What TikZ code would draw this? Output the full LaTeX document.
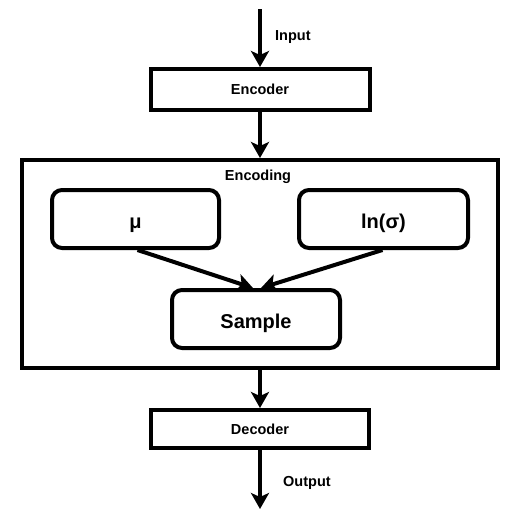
\documentclass[tikz,border=0pt]{standalone}
\usepackage{fontspec}
\setmainfont{Liberation Sans}
\usetikzlibrary{arrows.meta,calc}
\begin{document}
\begin{tikzpicture}[x=1pt,y=-1pt,
  box/.style={draw,line width=4pt,inner sep=0pt,font=\bfseries\fontsize{14.5}{17}\selectfont},
  rbox/.style={draw,line width=4pt,rounded corners=10pt,inner sep=0pt,text height=18.4pt,text depth=0pt,font=\bfseries\fontsize{20}{24}\selectfont},
  lbl/.style={inner sep=0pt,font=\bfseries\fontsize{14.5}{17}\selectfont},
  arr/.style={line width=4pt,-{Stealth[length=16pt,width=18pt,inset=4pt]}}]
\useasboundingbox (0,0) rectangle (519,520);
\node[box,minimum width=476pt,minimum height=208pt] (enc) at (260,264) {};
\node[lbl] at (258,177) {Encoding};
\node[box,minimum width=219pt,minimum height=41pt] (encoder) at (260,89.5) {Encoder};
\node[rbox,minimum width=167pt,minimum height=58pt] (mu) at (135.5,219) {μ};
\node[rbox,minimum width=169pt,minimum height=58pt] (ln) at (383.5,219) {ln(σ)};
\node[rbox,minimum width=168pt,minimum height=58pt] (sample) at (256,319) {Sample};
\node[box,minimum width=218pt,minimum height=38pt] (decoder) at (260,429) {Decoder};
\coordinate (in) at (260,9);
\coordinate (out) at (260,509);
\draw[arr] (in) -- (encoder.north);
\node[lbl,anchor=west] at (275,37) {Input};
\draw[arr] (encoder.south) -- (enc.north);
\draw[arr] ([xshift=2pt]mu.south) -- ([xshift=-3pt]sample.north);
\draw[arr] ([xshift=-1pt]ln.south) -- ([xshift=5pt]sample.north);
\draw[arr] (enc.south) -- (decoder.north);
\draw[arr] (decoder.south) -- (out);
\node[lbl,anchor=west] at (283,483) {Output};
\end{tikzpicture}
\end{document}
